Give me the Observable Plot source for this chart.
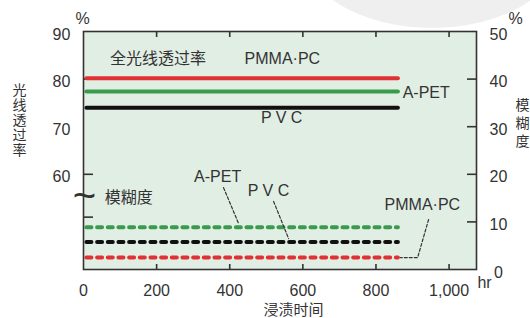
<!DOCTYPE html>
<html><head><meta charset="utf-8">
<script src="https://cdn.jsdelivr.net/npm/d3@7"></script>
<script src="https://cdn.jsdelivr.net/npm/@observablehq/plot@0.6"></script>
<style>
body{margin:0;background:#fff;}
#wrap{position:relative;width:530px;height:318px;overflow:hidden;}
#blob{position:absolute;left:303px;top:-128px;width:258px;height:156px;border-radius:50%;background:#efefef;}
#chart{position:absolute;left:0;top:0;}
</style></head><body>
<div id="wrap"><div id="blob"></div><div id="chart"></div></div>
<script>
// ---- data ----
const hours = [8, 860];
const series = ["PMMA·PC", "A-PET", "P V C"];
const transPMMA = [80.2, 80.2];
const transAPET = [77.4, 77.4];
const transPVC  = [74.0, 74.0];
const hazePMMA = [2.5, 2.5];
const hazeAPET = [8.9, 8.9];
const hazePVC  = [5.8, 5.8];
const xTicks = [0, 200, 400, 600, 800, 1000];
const leftTicks = [60, 70, 80, 90];
const rightTicks = [0, 10, 20, 30, 40, 50];
const offset = 40; // broken left axis: transmission % = haze scale + 40

const colors = {"PMMA·PC": "#e03232", "A-PET": "#3a9b4e", "P V C": "#111111"};
const transVals = [transPMMA, transAPET, transPVC];
const hazeVals = [hazePMMA, hazeAPET, hazePVC];
const transRows = series.flatMap((s, i) => hours.map((h, j) => ({s, x: h, y: transVals[i][j] - offset})));
const hazeRows = series.flatMap((s, i) => hours.map((h, j) => ({s, x: h, y: hazeVals[i][j]})));

const txt = "#333";
const font = "'Liberation Sans', Arial, 'Noto Sans CJK SC', sans-serif";
const noText = () => "";
const mid = {textAnchor: "middle", lineAnchor: "middle", fill: txt};

const chart = Plot.plot({
  width: 530, height: 318,
  marginLeft: 83, marginRight: 54, marginTop: 31, marginBottom: 49,
  style: {fontFamily: font, fontSize: "16px", color: txt, background: "transparent", overflow: "visible"},
  x: {domain: [0, 1075], axis: null},
  y: {domain: [0, 50], axis: null},
  marks: [
    Plot.frame({fill: "#e1eee4"}),
    // ticks (inward)
    Plot.axisY([60, 80].map(d => d - offset), {anchor: "left", tickSize: 10, dx: 10, stroke: txt, strokeWidth: 1.6, tickFormat: noText, label: null}),
    Plot.axisY([11], {anchor: "left", tickSize: 10, dx: 10, stroke: txt, strokeWidth: 1.6, tickFormat: noText, label: null}),
    Plot.axisY([10, 20, 30, 40], {anchor: "right", tickSize: 10, dx: -10, stroke: txt, strokeWidth: 1.6, tickFormat: noText, label: null}),
    Plot.axisX([200, 400, 600, 800, 1000], {anchor: "bottom", tickSize: 5, dy: -5, stroke: txt, strokeWidth: 1.6, tickFormat: noText, label: null}),
    Plot.axisX([200, 400, 600, 800, 1000], {anchor: "top", tickSize: 5, dy: 5, stroke: txt, strokeWidth: 1.6, tickFormat: noText, label: null}),
    // data lines
    Plot.line(transRows, {x: "x", y: "y", z: "s", stroke: d => colors[d.s], strokeWidth: 4}),
    Plot.line(hazeRows, {x: "x", y: "y", z: "s", stroke: d => colors[d.s], strokeWidth: 4, strokeDasharray: "5,5.67"}),
    Plot.frame({stroke: txt, strokeWidth: 1.6}),
    // tick labels
    Plot.axisY(leftTicks.map(d => d - offset), {anchor: "left", tickSize: 0, tickPadding: 22, textAnchor: "middle", tickFormat: d => d + offset, dy: 3, color: txt, fontSize: 16, label: null}),
    Plot.axisY(rightTicks, {anchor: "right", tickSize: 0, tickPadding: 22, textAnchor: "middle", dy: 3, color: txt, fontSize: 16, label: null}),
    Plot.axisX(xTicks, {anchor: "bottom", tickSize: 0, tickPadding: 15, tickFormat: d => d3.format(",")(d), color: txt, fontSize: 16, label: null}),
    // axis titles / units
    Plot.text(["%"], {frameAnchor: "top-left", dx: -1, dy: -13, fontSize: 16, ...mid}),
    Plot.text(["%"], {frameAnchor: "top-right", dx: 39, dy: -13, fontSize: 16, ...mid}),
    Plot.text(["hr"], {frameAnchor: "bottom-right", dx: 8, dy: 13, fontSize: 16, ...mid}),
    Plot.text(["浸渍时间"], {frameAnchor: "bottom", dx: 13.5, dy: 41, fontSize: 15, ...mid}),
    Plot.text(["光\n线\n透\n过\n率"], {frameAnchor: "left", dx: -64, dy: -30, fontSize: 14, lineHeight: 1.07, ...mid}),
    Plot.text(["模\n糊\n度"], {frameAnchor: "right", dx: 46, dy: -28, fontSize: 14, lineHeight: 1.28, ...mid}),
    // axis break
    Plot.text(["~"], {frameAnchor: "left", dx: 1, dy: 46, fontSize: 40, ...mid}),
    // annotations
    Plot.text(["全光线透过率"], {x: 204, y: 44.3, fill: txt, fontSize: 16}),
    Plot.text(["PMMA·PC"], {x: 544, y: 44.3, fill: txt, fontSize: 16}),
    Plot.text(["A-PET"], {x: 873, y: 37.2, textAnchor: "start", fill: txt, fontSize: 16}),
    Plot.text(["P V C"], {x: 542, y: 31.9, fill: txt, fontSize: 16}),
    Plot.text(["模糊度"], {x: 124, y: 15.1, fill: txt, fontSize: 16}),
    Plot.text(["A-PET"], {x: 367, y: 19.4, fill: txt, fontSize: 16}),
    Plot.text(["P V C"], {x: 506, y: 16.6, fill: txt, fontSize: 16}),
    Plot.text(["PMMA·PC"], {x: 927, y: 13.5, fill: txt, fontSize: 16}),
    // leaders
    Plot.line([[383, 17.2], [424, 9.7]], {stroke: txt, strokeWidth: 1.2, strokeDasharray: "3,2"}),
    Plot.line([[520, 14.3], [561, 6.5]], {stroke: txt, strokeWidth: 1.2, strokeDasharray: "3,2"}),
    Plot.line([[944, 10.5], [914, 2.5], [867, 2.5]], {stroke: txt, strokeWidth: 1.2, strokeDasharray: "3,2"})
  ]
});
document.getElementById("chart").appendChild(chart);
</script>
</body></html>
